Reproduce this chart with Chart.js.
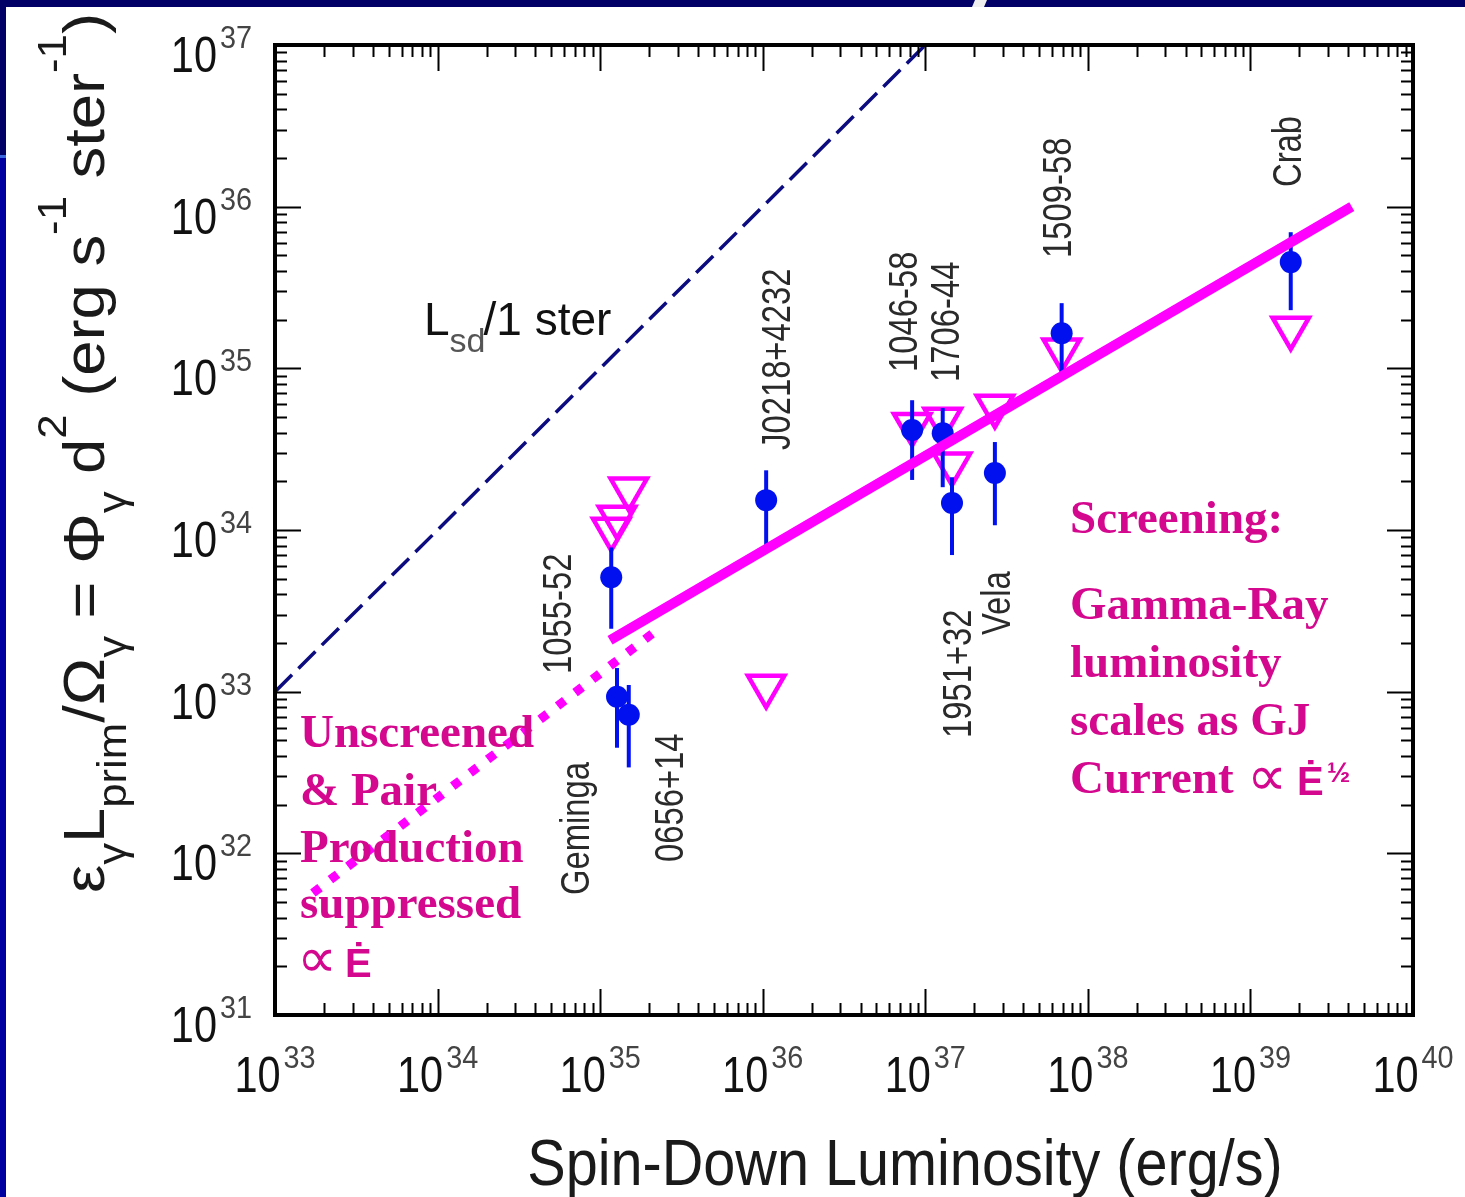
<!DOCTYPE html>
<html>
<head>
<meta charset="utf-8">
<script src="https://cdn.jsdelivr.net/npm/chart.js@4.4.1/dist/chart.umd.min.js"></script>
<style>
  html, body { margin: 0; padding: 0; background: #fff; }
  #wrap { width: 1465px; height: 1197px; position: relative; }
</style>
</head>
<body>
<div id="wrap"><canvas id="chart" width="1465" height="1197"></canvas></div>
<script>
// EGRET pulsars: spin-down luminosity vs gamma-ray luminosity per steradian
const pulsarNames = ['1055-52', 'Geminga', '0656+14', 'J0218+4232', '1046-58', '1706-44', '1951+32', 'Vela', '1509-58', 'Crab'];
const spinDown   = [1.17e35, 1.27e35, 1.5e35, 1.05e36, 8.3e36, 1.28e37, 1.46e37, 2.68e37, 6.9e37, 1.77e39];
const gammaLum   = [5.1e33, 9.3e32, 7.2e32, 1.53e34, 4.15e34, 3.97e34, 1.47e34, 2.25e34, 1.65e35, 4.54e35];
const gammaLo    = [2.45e33, 4.5e32, 3.4e32, 7.8e33, 2.04e34, 1.84e34, 7.0e33, 1.07e34, 8.45e34, 2.29e35];
const gammaHi    = [7.8e33, 1.4e33, 1.1e33, 2.34e34, 6.35e34, 5.68e34, 2.12e34, 3.5e34, 2.53e35, 6.95e35];
const upperLimit = [1.01e34, 1.2e34, 1.79e34, 1.08e33, 4.5e34, 4.85e34, 2.56e34, 5.83e34, 1.3e35, 1.77e35];

// model lines
const sdLineX = [1e33, 1e37];
const sdLineY = [1e33, 1e37];
const unscreenedX = [1.71e33, 2.23e35];
const unscreenedY = [5.68e31, 2.40e33];
const screenedX = [1.15e35, 4.2e39];
const screenedY = [2.08e33, 1.0e36];

// decade exponents for the axes
const xExps = [33, 34, 35, 36, 37, 38, 39, 40];
const yExps = [31, 32, 33, 34, 35, 36, 37];

const BLUE = '#0010EE';
const MAGENTA = '#FF00FF';
const PINK_TEXT = '#D4088F';
const SANS = '"Liberation Sans", Arial, sans-serif';
const SERIF = '"Liberation Serif", "Times New Roman", serif';

// where each pulsar name sits: [x of cap centre, y where the text starts]
const nameSpots = [[557, 674], [575, 895], [669, 862], [776, 450], [903, 372], [945, 382], [957, 738], [996, 635], [1057, 258], [1287, 187]];

const toPts = (xs, ys) => xs.map((v, i) => ({ x: v, y: ys[i] }));

function squeezed(ctx, text, x, y, font, sx, color) {
  ctx.save();
  ctx.font = font;
  ctx.fillStyle = color;
  ctx.translate(x, y);
  ctx.scale(sx, 1);
  ctx.fillText(text, 0, 0);
  ctx.restore();
}
function widthOf(ctx, text, font, sx) {
  ctx.save();
  ctx.font = font;
  const w = ctx.measureText(text).width * sx;
  ctx.restore();
  return w;
}

// 10^n label, left edge at x
function powerLabel(ctx, exp, x, baseY, supY) {
  const f1 = '50px ' + SANS, f2 = '32px ' + SANS;
  const w1 = widthOf(ctx, '10', f1, 0.83);
  squeezed(ctx, '10', x, baseY, f1, 0.83, '#111');
  squeezed(ctx, String(exp), x + w1 + 3, supY, f2, 0.9, '#444');
}
function powerWidth(ctx, exp) {
  return widthOf(ctx, '10', '50px ' + SANS, 0.83) + 3 + widthOf(ctx, String(exp), '32px ' + SANS, 0.9);
}

const slideAndFrame = {
  id: 'slideAndFrame',
  beforeDraw(chart) {
    const { ctx, width, height } = chart;
    ctx.save();
    ctx.fillStyle = '#fff';
    ctx.fillRect(0, 0, width, height);
    // slide border
    ctx.fillStyle = '#000066';
    ctx.fillRect(0, 0, width, 7);
    ctx.fillRect(0, 0, 6, 157);
    ctx.fillStyle = '#3a66dd';
    ctx.fillRect(0, 155, 6, 3);
    ctx.fillStyle = '#0000a0';
    ctx.fillRect(0, 158, 6, height - 158);
    ctx.fillStyle = '#eee';
    ctx.beginPath();
    ctx.moveTo(975, 0); ctx.lineTo(987, 0); ctx.lineTo(984, 7); ctx.lineTo(972, 7);
    ctx.fill();
    ctx.restore();
  },
  beforeDatasetDraw(chart, args) {
    if (args.index !== 4) return;
    const { ctx, scales: { x, y } } = chart;
    ctx.save();
    ctx.strokeStyle = BLUE;
    ctx.lineWidth = 4;
    spinDown.forEach((e, i) => {
      const px = x.getPixelForValue(e);
      ctx.beginPath();
      ctx.moveTo(px, y.getPixelForValue(gammaLo[i]));
      ctx.lineTo(px, y.getPixelForValue(gammaHi[i]));
      ctx.stroke();
    });
    ctx.restore();
  },
  afterDatasetsDraw(chart) {
    const { ctx, chartArea: a, scales: { x, y } } = chart;
    ctx.save();
    ctx.strokeStyle = '#000';
    ctx.lineWidth = 2;
    ctx.beginPath();
    // inward ticks on all four sides
    xExps.forEach(e => {
      for (let k = 1; k <= 9; k++) {
        const v = k * Math.pow(10, e);
        if (v > x.max * 1.0001) break;
        const p = Math.round(x.getPixelForValue(v)) + 0.5;
        const len = k === 1 ? 26 : 12;
        ctx.moveTo(p, a.bottom); ctx.lineTo(p, a.bottom - len);
        ctx.moveTo(p, a.top); ctx.lineTo(p, a.top + len);
      }
    });
    yExps.forEach(e => {
      for (let k = 1; k <= 9; k++) {
        const v = k * Math.pow(10, e);
        if (v > y.max * 1.0001) break;
        const p = Math.round(y.getPixelForValue(v)) + 0.5;
        const len = k === 1 ? 26 : 12;
        ctx.moveTo(a.left, p); ctx.lineTo(a.left + len, p);
        ctx.moveTo(a.right, p); ctx.lineTo(a.right - len, p);
      }
    });
    ctx.stroke();
    ctx.lineWidth = 4;
    ctx.strokeRect(a.left, a.top, a.right - a.left, a.bottom - a.top);
    ctx.restore();

    ctx.save();
    ctx.textBaseline = 'alphabetic';
    ctx.textAlign = 'left';
    // decade labels
    xExps.forEach(e => {
      const cx = x.getPixelForValue(Math.pow(10, e));
      powerLabel(ctx, e, cx - powerWidth(ctx, e) / 2, a.bottom + 77, a.bottom + 53);
    });
    yExps.forEach(e => {
      const py = y.getPixelForValue(Math.pow(10, e));
      powerLabel(ctx, e, 252 - powerWidth(ctx, e), py + 27, py + 3);
    });

    // x title
    const xt = 'Spin-Down Luminosity (erg/s)';
    const xf = '64px ' + SANS;
    squeezed(ctx, xt, 905 - widthOf(ctx, xt, xf, 0.9) / 2, 1185, xf, 0.9, '#1a1a1a');

    // y title, rotated, with sub- and superscripts
    const parts = [['ε', 0], ['γ', 1], ['L', 0], ['prim', 1], ['/', 0], ['Ω', 0], ['γ', 1], [' = ', 0], ['Φ', 0], ['γ', 1],
      [' d', 0], ['2', 2], [' (erg s', 0], ['-1', 2], [' ster', 0], ['-1', 2], [')', 0]];
    const fMain = '58px ' + SANS, fSmall = '40px ' + SANS;
    let total = 0;
    parts.forEach(([t, k]) => { total += widthOf(ctx, t, k ? fSmall : fMain, 1); });
    const s = 880 / total;
    ctx.save();
    ctx.translate(104, 893);
    ctx.rotate(-Math.PI / 2);
    ctx.scale(s, 1);
    ctx.fillStyle = '#1a1a1a';
    let cur = 0;
    parts.forEach(([t, k]) => {
      ctx.font = k ? fSmall : fMain;
      const dy = k === 1 ? 22 : (k === 2 ? -38 : 0);
      ctx.fillText(t, cur, dy);
      cur += ctx.measureText(t).width;
    });
    ctx.restore();

    // pulsar names, reading upwards
    pulsarNames.forEach((n, i) => {
      const [cx, by] = nameSpots[i];
      ctx.save();
      ctx.translate(cx + 14, by);
      ctx.rotate(-Math.PI / 2);
      ctx.scale(0.82, 1);
      ctx.font = '40px ' + SANS;
      ctx.fillStyle = '#2a2a2a';
      ctx.fillText(n, 0, 0);
      ctx.restore();
    });

    // L_sd / 1 ster
    ctx.fillStyle = '#111';
    ctx.font = '46px ' + SANS;
    ctx.fillText('L', 424, 335);
    let lx = 424 + ctx.measureText('L').width;
    ctx.font = '34px ' + SANS;
    ctx.fillStyle = '#555';
    ctx.fillText('sd', lx, 352);
    lx += ctx.measureText('sd').width;
    ctx.font = '46px ' + SANS;
    ctx.fillStyle = '#111';
    ctx.fillText('/1 ster', lx - 2, 335);

    // annotations
    const bold = 'bold 47px ' + SERIF;
    ctx.fillStyle = PINK_TEXT;
    ctx.font = bold;
    [['Unscreened', 747], ['& Pair', 805], ['Production', 862], ['suppressed', 918]].forEach(([t, yy]) => ctx.fillText(t, 300, yy));
    ctx.font = '56px ' + SERIF;
    ctx.fillText('∝', 297, 977);
    ctx.font = 'bold 40px ' + SANS;
    ctx.fillText('Ė', 345, 977);

    ctx.font = bold;
    [['Screening:', 533], ['Gamma-Ray', 619], ['luminosity', 677], ['scales as GJ', 735], ['Current', 793]].forEach(([t, yy]) => ctx.fillText(t, 1070, yy));
    ctx.font = '56px ' + SERIF;
    ctx.fillText('∝', 1247, 795);
    ctx.font = 'bold 40px ' + SANS;
    ctx.fillText('Ė', 1297, 795);
    ctx.font = 'bold 28px ' + SANS;
    ctx.fillText('½', 1327, 782);
    ctx.restore();
  }
};

new Chart(document.getElementById('chart'), {
  type: 'scatter',
  data: {
    datasets: [
      {
        label: 'Lsd / 1 ster',
        data: toPts(sdLineX, sdLineY),
        showLine: true,
        borderColor: '#0c0c80',
        borderWidth: 3.5,
        borderDash: [24, 9],
        pointRadius: 0,
        order: 0
      },
      {
        label: 'screened',
        data: toPts(screenedX, screenedY),
        showLine: true,
        borderColor: MAGENTA,
        borderWidth: 10,
        pointRadius: 0,
        order: 0
      },
      {
        label: 'unscreened',
        data: toPts(unscreenedX, unscreenedY),
        showLine: true,
        borderColor: MAGENTA,
        borderWidth: 9,
        borderDash: [9, 13],
        pointRadius: 0,
        order: 1
      },
      {
        label: 'upper limits',
        data: toPts(spinDown, upperLimit),
        pointStyle: 'triangle',
        rotation: 180,
        pointRadius: 21,
        borderColor: MAGENTA,
        borderWidth: 4.5,
        backgroundColor: 'rgba(0,0,0,0)',
        order: 3
      },
      {
        label: 'detections',
        data: toPts(spinDown, gammaLum),
        pointStyle: 'circle',
        pointRadius: 11,
        backgroundColor: BLUE,
        borderWidth: 0,
        order: 2
      }
    ]
  },
  options: {
    responsive: false,
    animation: false,
    events: [],
    layout: { padding: { left: 275, right: 52, top: 45, bottom: 182 } },
    plugins: { legend: { display: false }, tooltip: { enabled: false } },
    scales: {
      x: { type: 'logarithmic', min: 1e33, max: 1e40, display: false },
      y: { type: 'logarithmic', min: 1e31, max: 1e37, display: false }
    }
  },
  plugins: [slideAndFrame]
});
</script>
</body>
</html>
